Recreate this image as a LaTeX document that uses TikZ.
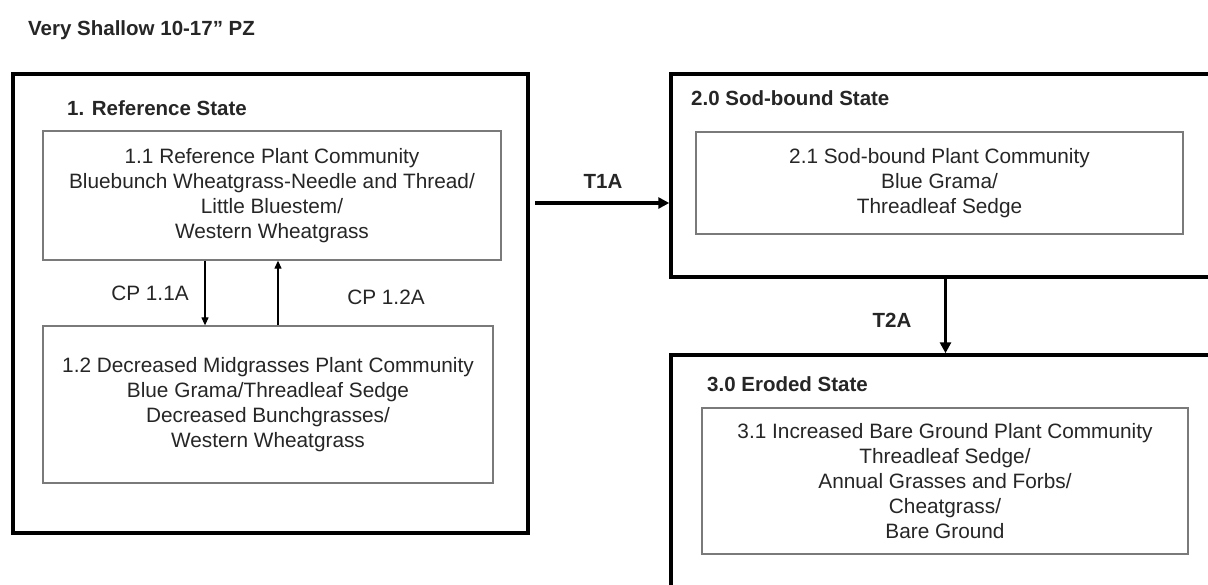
\documentclass[tikz,border=0pt]{standalone}
\usepackage{fontspec}
\setmainfont{Liberation Sans}
\usetikzlibrary{arrows.meta}
\definecolor{txt}{HTML}{262626}
\definecolor{innerline}{HTML}{7A7A7A}
\begin{document}
\begin{tikzpicture}[x=1pt,y=-1pt,
  statebox/.style={draw=black, line width=3.5pt, inner sep=0pt},
  commbox/.style={draw=innerline, line width=1.3pt, align=center, text=txt,
    font=\fontsize{20.8}{25}\selectfont, inner sep=0pt},
  titletext/.style={font=\bfseries\fontsize{20.5}{24}\selectfont, text=txt, anchor=base west, inner sep=0pt},
  lbl/.style={font=\fontsize{20.8}{25}\selectfont, text=txt, inner sep=0pt},
  blbl/.style={font=\bfseries\fontsize{20.5}{25}\selectfont, text=txt, inner sep=0pt},
  thinarrow/.style={draw=black, -{Triangle[length=8pt,width=7pt]}, line width=1.2pt},
  thickarrow/.style={draw=black, -{Triangle[length=11pt,width=11pt]}, line width=3.5pt}]
\path[use as bounding box] (0,0) rectangle (1208,584);
\fill[white] (0,0) rectangle (1208,584);
\begin{scope}
\clip (0,0) rectangle (1208,584);

% title
\node[titletext] (title) at (28,35) {Very Shallow 10-17” PZ};

% state boxes
\node[statebox, minimum width=515pt, minimum height=459pt] (s1) at (270.5,303.5) {};
\node[statebox, minimum width=549pt, minimum height=203pt] (s2) at (945.5,175.5) {};
\node[statebox, minimum width=549pt, minimum height=265pt] (s3) at (945.5,487.5) {};

\node[titletext] (s1t) at (67,115) {1. Reference State};
\node[titletext] (s2t) at (691,105) {2.0 Sod-bound State};
\node[titletext] (s3t) at (707,391) {3.0 Eroded State};

% community boxes
\node[commbox, minimum width=458pt, minimum height=129pt] (c11) at (272,195.5)
  {1.1 Reference Plant Community\\Bluebunch Wheatgrass-Needle and Thread/\\Little Bluestem/\\Western Wheatgrass};
\node[commbox, minimum width=450pt, minimum height=157pt] (c12) at (268,404.5)
  {1.2 Decreased Midgrasses Plant Community\\Blue Grama/Threadleaf Sedge\\Decreased Bunchgrasses/\\Western Wheatgrass};
\node[commbox, minimum width=487pt, minimum height=102pt] (c21) at (939.5,183)
  {2.1 Sod-bound Plant Community\\Blue Grama/\\Threadleaf Sedge};
\node[commbox, minimum width=486pt, minimum height=146pt] (c31) at (945,481)
  {3.1 Increased Bare Ground Plant Community\\Threadleaf Sedge/\\Annual Grasses and Forbs/\\Cheatgrass/\\Bare Ground};

% community pathways
\coordinate (cpd) at (205,0);
\coordinate (cpu) at (278,0);
\draw[thinarrow] (c11.south -| cpd) -- (c12.north -| cpd);
\draw[thinarrow] (c12.north -| cpu) -- (c11.south -| cpu);
\node[lbl] (cp11) at (150,293) {CP 1.1A};
\node[lbl] (cp12) at (386,297) {CP 1.2A};

% transitions
\coordinate (t1start) at (535,203);
\draw[thickarrow] (t1start) -- (t1start -| s2.west);
\node[blbl] (t1a) at (603,181) {T1A};
\draw[thickarrow] (s2.south) -- (s3.north);
\node[blbl] (t2a) at (892,320) {T2A};
\end{scope}
\end{tikzpicture}
\end{document}
